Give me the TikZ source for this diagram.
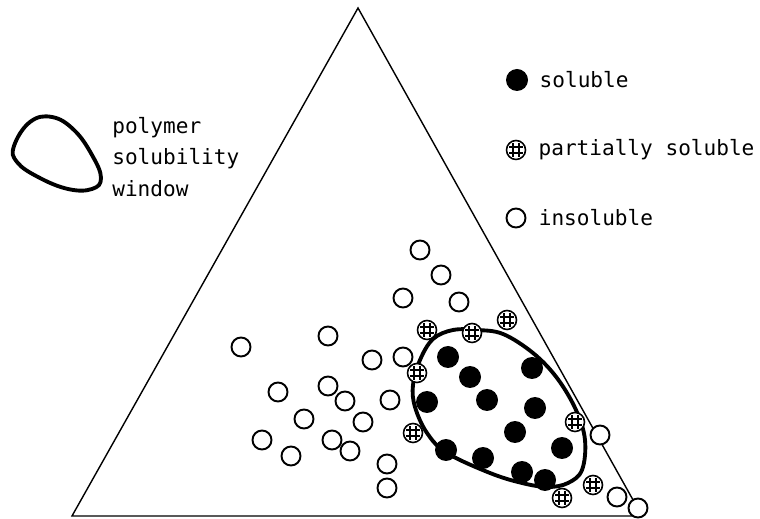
\documentclass[tikz,border=0pt]{standalone}
\usepackage{fontspec}
\setmonofont{DejaVu Sans Mono}
\usetikzlibrary{positioning}

\begin{document}
\begin{tikzpicture}[
    x=0.02cm, y=-0.02cm,
    insol/.style={
        circle, draw, line width=1.1pt, fill=white,
        minimum size=0.38cm, inner sep=0pt
    },
    sol/.style={circle, fill=black, minimum size=0.44cm, inner sep=0pt},
    part/.style={
        circle, draw, line width=0.9pt, fill=white,
        minimum size=0.38cm, inner sep=0pt,
        path picture={
            \foreach \d in {-3,3} {
                \draw[line width=0.6pt] ([shift={(\d,-7)}]path picture bounding box.center) -- ([shift={(\d,7)}]path picture bounding box.center);
                \draw[line width=0.6pt] ([shift={(-7,\d)}]path picture bounding box.center) -- ([shift={(7,\d)}]path picture bounding box.center);
            }
        }
    },
    window/.style={line width=2.2pt, line join=round},
    lbl/.style={font=\fontsize{12}{18}\selectfont\ttfamily, inner sep=0pt, align=left}
]
    \useasboundingbox (0,0) rectangle (760,519);

    % Ternary triangle
    \coordinate (top) at (358,8);
    \coordinate (bl) at (72,516);
    \coordinate (br) at (642,516);
    \draw[line width=0.8pt] (top) -- (br) -- (bl) -- cycle;

    % Key: window outline
    \draw[window] plot[smooth cycle, tension=0.7] coordinates {
        (14,146) (30,122) (52,117) (74,130) (92,155) (101,178)
        (92,189) (68,189) (38,177) (17,162)};
    \node[lbl, anchor=west] (keytext) at (112,157) {polymer\\solubility\\window};

    % Key: markers
    \node[sol] (keysol) at (517,80) {};
    \node[lbl, right=0.22cm of keysol] {soluble};
    \node[part] (keypart) at (516,150) {};
    \node[lbl, right=0.24cm of keypart] {partially soluble};
    \node[insol] (keyins) at (516,218) {};
    \node[lbl, right=0.24cm of keyins] {insoluble};

    % Solubility window
    \draw[window] plot[smooth cycle, tension=0.6] coordinates {
        (420,360) (433,339) (453,330) (477,330) (503,334) (533,353)
        (557,378) (576,410) (585,440) (582,470) (568,483) (548,487)
        (522,483) (490,473) (447,453) (427,433) (415,407) (413,385)};

    % Insoluble
    \foreach \p [count=\i] in {(420,250), (441,275), (403,298), (459,302),
        (328,336), (241,347), (372,360), (403,357), (278,392), (328,386),
        (345,401), (390,400), (304,419), (363,422), (262,440), (332,440),
        (350,451), (291,456), (387,464), (387,488), (600,435), (617,497),
        (638,508)}
        \node[insol] (ins\i) at \p {};

    % Soluble
    \foreach \p [count=\i] in {(448,357), (470,377), (532,368), (427,402),
        (487,400), (535,408), (515,432), (562,448), (446,450), (483,458),
        (522,472), (545,480)}
        \node[sol] (sol\i) at \p {};

    % Partially soluble
    \foreach \p [count=\i] in {(427,330), (472,333), (507,320), (417,373),
        (413,433), (575,422), (593,485), (562,498)}
        \node[part] (part\i) at \p {};

\end{tikzpicture}
\end{document}
